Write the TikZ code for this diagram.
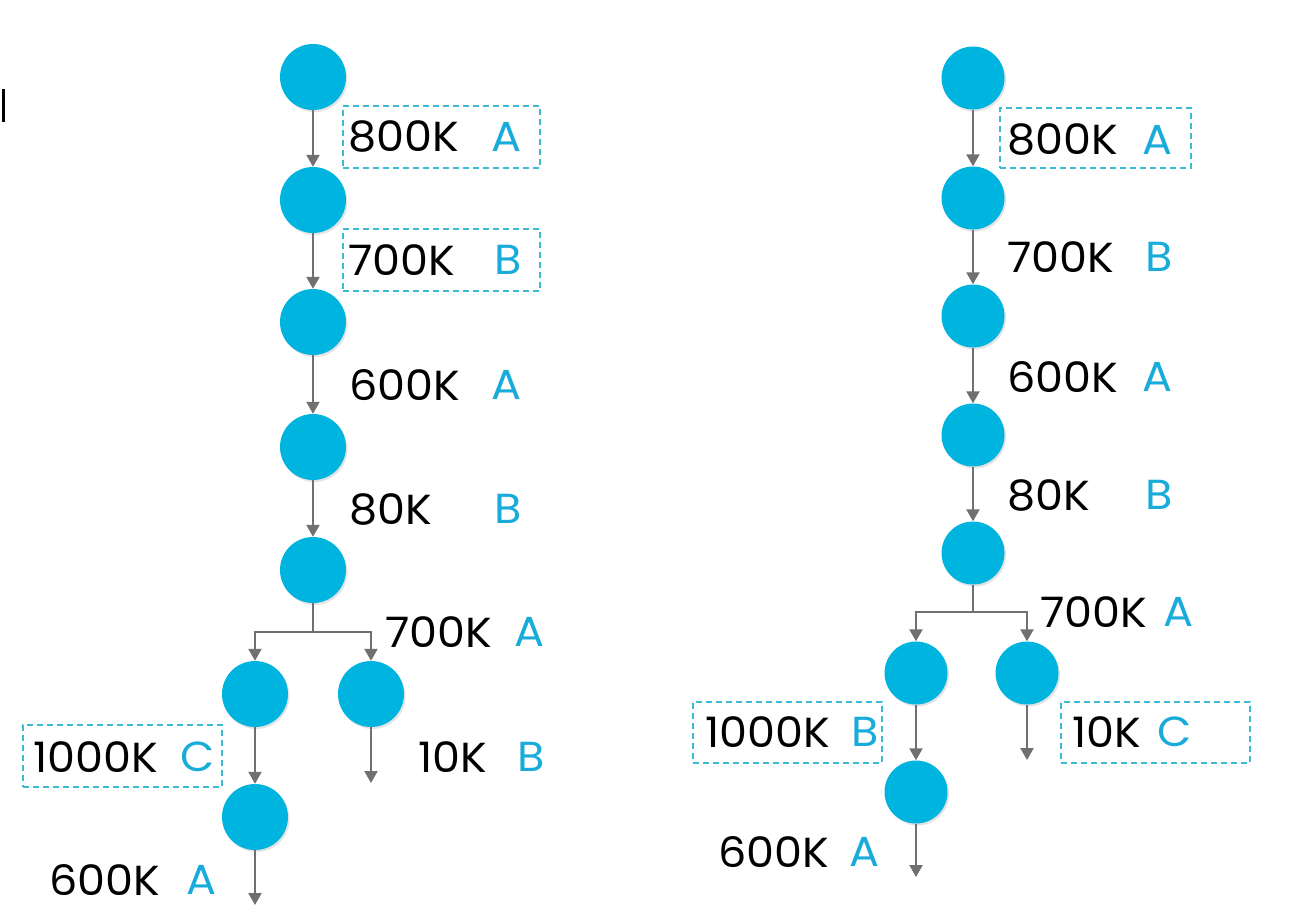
\documentclass[tikz,border=0pt]{standalone}
\usepackage{fontspec}
\setmainfont{Poppins}[FakeStretch=1.06]
\usepackage{xcolor}
\usetikzlibrary{arrows.meta,shadows}

\definecolor{nodeblue}{RGB}{0,180,224}
\definecolor{tagblue}{RGB}{25,172,218}
\definecolor{boxblue}{RGB}{60,188,212}
\definecolor{edgegray}{RGB}{112,112,112}

\begin{document}
\begin{tikzpicture}[
            x=1pt, y=-1pt,
            edge/.style={draw=edgegray, line width=2.2pt, -{Triangle[width=13pt,length=12pt]}},
            trunk/.style={draw=edgegray, line width=2.2pt},
            num/.style={anchor=west, inner sep=0pt, font=\fontsize{42}{42}\selectfont},
            tag/.style={anchor=east, inner sep=0pt, text=tagblue, font=\fontsize{42}{42}\selectfont},
            dbox/.style={draw=boxblue, line width=1.6pt, dash pattern=on 6pt off 4pt, inner sep=0pt}
        ]
            \useasboundingbox (0,0) rectangle (1298,913);
            \fill (1.5,89) rectangle (4.5,122);
            \begin{scope}[
                every node/.style={circle, fill=nodeblue, inner sep=0pt, minimum size=66pt,
                    drop shadow={opacity=0.22, shadow xshift=1.5pt, shadow yshift=-2pt}}
            ]
                % Vertices (left)
                \node (l1) at (313, 77) {};
                \node (l2) at (313,200) {};
                \node (l3) at (313,322) {};
                \node (l4) at (313,447) {};
                \node (l5) at (313,570) {};
                \node (l6) at (255,694) {};
                \node (l7) at (371,694) {};
                \node (l8) at (255,817) {};
            \end{scope}
            \begin{scope}[
                every node/.style={circle, fill=nodeblue, inner sep=0pt, minimum size=63pt,
                    drop shadow={opacity=0.22, shadow xshift=1.5pt, shadow yshift=-2pt}}
            ]
                % Vertices (right)
                \node (r1) at ( 973, 78) {};
                \node (r2) at ( 973,198) {};
                \node (r3) at ( 973,316) {};
                \node (r4) at ( 973,435) {};
                \node (r5) at ( 973,553) {};
                \node (r6) at ( 916,673) {};
                \node (r7) at (1027,673) {};
                \node (r8) at ( 916,792) {};
            \end{scope}
            % Forks and loose ends
            \coordinate (lfork) at (313,632);
            \coordinate (l7end) at (371,783);
            \coordinate (l8end) at (255,905);
            \coordinate (rfork) at (973,612);
            \coordinate (r7end) at (1027,760);
            \coordinate (r8end) at (916,877);
            % Edges (left)
            \draw[edge] (l1) -- (l2);
            \draw[edge] (l2) -- (l3);
            \draw[edge] (l3) -- (l4);
            \draw[edge] (l4) -- (l5);
            \draw[trunk] (l5) -- (lfork);
            \draw[edge] (lfork) -| (l6);
            \draw[edge] (lfork) -| (l7);
            \draw[edge] (l6) -- (l8);
            \draw[edge] (l7) -- (l7end);
            \draw[edge] (l8) -- (l8end);
            % Edges (right)
            \draw[edge] (r1) -- (r2);
            \draw[edge] (r2) -- (r3);
            \draw[edge] (r3) -- (r4);
            \draw[edge] (r4) -- (r5);
            \draw[trunk] (r5) -- (rfork);
            \draw[edge] (rfork) -| (r6);
            \draw[edge] (rfork) -| (r7);
            \draw[edge] (r6) -- (r8);
            \draw[edge] (r7) -- (r7end);
            \draw[edge] (r8) -- (r8end);
            % Labels (left)
            \node[num] (ln1) at (348,137) {800K};  \node[tag] (lt1) at (522,137) {A};
            \node[num] (ln2) at (348,260) {700K};  \node[tag] (lt2) at (522,260) {B};
            \node[num] (ln3) at (349,385) {600K};  \node[tag] (lt3) at (522,385) {A};
            \node[num] (ln4) at (349,509) {80K};   \node[tag] (lt4) at (522,509) {B};
            \node[num] (ln5) at (385,632) {700K};  \node[tag] (lt5) at (545,632) {A};
            \node[num] (ln6) at (418,757) {10K};   \node[tag] (lt6) at (545,757) {B};
            \node[num] (ln7) at ( 33,757) {1000K}; \node[tag] (lt7) at (215,757) {C};
            \node[num] (ln8) at ( 49,880) {600K};  \node[tag] (lt8) at (217,880) {A};
            % Labels (right)
            \begin{scope}[every node/.append style={font=\fontsize{40}{40}\selectfont}]
            \node[num] (rn1) at (1007,140) {800K};  \node[tag] (rt1) at (1173,140) {A};
            \node[num] (rn2) at (1007,257) {700K};  \node[tag] (rt2) at (1173,257) {B};
            \node[num] (rn3) at (1007,377) {600K};  \node[tag] (rt3) at (1173,377) {A};
            \node[num] (rn4) at (1007,495) {80K};   \node[tag] (rt4) at (1173,495) {B};
            \node[num] (rn5) at (1040,612) {700K};  \node[tag] (rt5) at (1194,612) {A};
            \node[num] (rn6) at ( 705,732) {1000K}; \node[tag] (rt6) at ( 879,732) {B};
            \node[num] (rn7) at (1072,732) {10K};   \node[tag] (rt7) at (1192,732) {C};
            \node[num] (rn8) at ( 718,852) {600K};  \node[tag] (rt8) at ( 880,852) {A};
            \end{scope}
            % Dashed boxes
            \node[dbox, minimum width=197pt, minimum height=62pt] (lb1) at ( 441.5,137) {};
            \node[dbox, minimum width=197pt, minimum height=62pt] (lb2) at ( 441.5,260) {};
            \node[dbox, minimum width=199pt, minimum height=62pt] (lb3) at ( 122.5,756) {};
            \node[dbox, minimum width=191pt, minimum height=60pt] (rb1) at (1095.5,138) {};
            \node[dbox, minimum width=189pt, minimum height=61pt] (rb2) at ( 787.5,732.5) {};
            \node[dbox, minimum width=189pt, minimum height=61pt] (rb3) at (1155.5,732.5) {};
        \end{tikzpicture}
\end{document}
